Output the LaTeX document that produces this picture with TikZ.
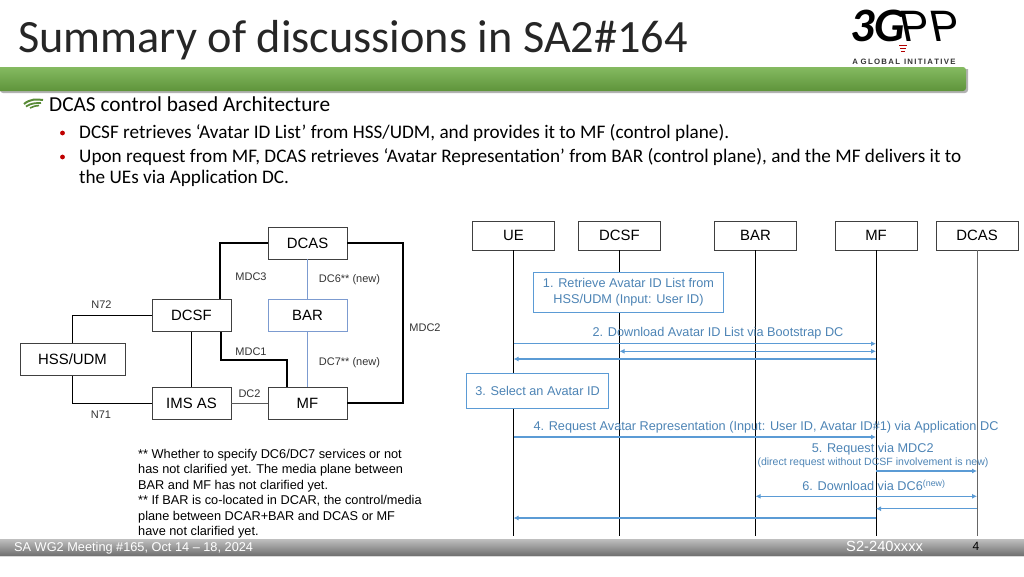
\documentclass[tikz,border=0pt]{standalone}
\usepackage{fontspec}
\setmainfont{Carlito}
\newfontfamily\arialfont{Liberation Sans}
\usetikzlibrary{arrows.meta}
\definecolor{msgblue}{HTML}{5B9BD5}
\definecolor{barblue}{HTML}{7C9BD0}
\definecolor{bargreen}{HTML}{6FAE45}
\begin{document}
\begin{tikzpicture}[x=1pt,y=-1pt,
        main/.style = {draw=black!75, fill=white, line width=0.8pt, minimum width=79pt, minimum height=32pt, inner sep=0pt, font=\arialfont\fontsize{14.9}{14.9}\selectfont},
        head/.style = {main, minimum width=82pt, minimum height=29pt},
        link/.style = {draw=black, line width=0.8pt},
        thick link/.style = {draw=black, line width=2pt},
        blue link/.style = {draw=barblue, line width=0.9pt},
        tag/.style = {inner sep=0pt, font=\arialfont\fontsize{11}{11}\selectfont, text=black!80},
        life/.style = {draw=black, line width=0.8pt},
        msg/.style = {draw=msgblue, line width=1.3pt, -{Latex[length=5pt,width=5pt]}},
        both/.style = {msg, {Latex[length=5pt,width=5pt]}-{Latex[length=5pt,width=5pt]}},
        note/.style = {draw=msgblue, fill=white, line width=0.9pt, inner sep=0pt, align=center, text=msgblue!85!black, font=\arialfont\fontsize{12.7}{16}\selectfont},
        say/.style = {inner sep=0pt, align=center, text=msgblue!85!black, font=\arialfont\fontsize{12.7}{14}\selectfont},
        body/.style = {anchor=west, inner sep=0pt, font=\fontsize{19.2}{19.2}\selectfont},
        foot/.style = {inner sep=0pt, text=white, font=\arialfont\fontsize{12.75}{12.75}\selectfont}]
                \useasboundingbox (0,0) rectangle (1024,576);
                \node[anchor=west, inner sep=0pt, font=\fontsize{46.3}{46.3}\selectfont, text=black!85] (title) at (18,40) {Summary of discussions in SA2\#164};
                \fill[black!30] (0,69) -- (968,69) -- (968,88) [rounded corners=3pt] -- (968,93) -- (0,93) -- cycle;
                \shade[top color=bargreen!85!white, bottom color=bargreen!85!black, rounded corners=3pt] (-5,67) rectangle (966,91);
                \node[inner sep=0pt, font=\bfseries\itshape\fontsize{48}{48}\selectfont] (logo) at (878,26) {3G};
                \node[inner sep=0pt, xslant=-0.2, font=\arialfont\fontsize{44}{44}\selectfont] (pp) [right of = logo, node distance=52pt] {PP};
                \draw[red!70!black, line width=0.8pt] (899,45) -- (907,45);
                \draw[red!70!black, line width=0.8pt] (900,48) -- (906,48);
                \draw[red!70!black, line width=0.8pt] (901,51) -- (905,51);
                \node[inner sep=0pt, font=\arialfont\bfseries\fontsize{7.8}{7.8}\selectfont, text=black!80] (slogan) at (904,62) {A\,\,G\,L\,O\,B\,A\,L\,\,\,I\,N\,I\,T\,I\,A\,T\,I\,V\,E};
                \draw[bargreen!80!black, line width=2pt] (24,104) .. controls (30,99) and (36,99) .. (43,100);
                \draw[bargreen!80!black, line width=1.8pt] (26,106.5) .. controls (31,103) and (36,103) .. (41,103);
                \draw[bargreen!80!black, line width=1.6pt] (30,108) .. controls (33,106) and (36,106) .. (39,105.5);
                \node[body, font=\fontsize{21.3}{21.3}\selectfont] (sub) at (49,104) {DCAS control based Architecture};
                \node[body] (first) at (79,133) {DCSF retrieves ‘Avatar ID List’ from HSS/UDM, and provides it to MF (control plane).};
                \node[body] (second) at (79,157) {Upon request from MF, DCAS retrieves ‘Avatar Representation’ from BAR (control plane), and the MF delivers it to};
                \node[body] (third) at (79,178) {the UEs via Application DC.};
                \fill[red!75!black] (62.5,133) circle (2.4);
                \fill[red!75!black] (62.5,157) circle (2.4);

                \node[main] (dcsf) at (191.5,315.5) {DCSF};
                \node[main, draw=barblue] (bar) [right of = dcsf, node distance=116pt] {BAR};
                \node[main] (dcas) [above of = bar, node distance=72.5pt] {DCAS};
                \node[main] (mf) [below of = bar, node distance=87.5pt] {MF};
                \node[main] (ims) [left of = mf, node distance=116pt] {IMS AS};
                \node[main, minimum width=105pt] (hss) at (72.5,359.5) {HSS/UDM};
                \draw[thick link] (dcas) -| ([xshift=28.5pt]dcsf.north);
                \draw[thick link] (dcas) -- (403,243) |- (mf);
                \draw[thick link] ([xshift=29.5pt]dcsf.south) |- (287,359.5) -- ([xshift=-20.5pt]mf.north);
                \draw[blue link] (dcas) -- (bar);
                \draw[blue link] (bar) -- (mf);
                \draw[link] (dcsf) -- (ims);
                \draw[link, black!65] (ims) -- (mf);
                \draw[link] (hss) |- (dcsf);
                \draw[link] (hss) |- (ims);
                \node[tag] (mdc3) at (251,276.5) {MDC3};
                \node[tag] (dc6) at (349.5,279.5) {DC6** (new)};
                \node[tag] (n72) at (101.5,305) {N72};
                \node[tag] (mdc2) at (425,327.5) {MDC2};
                \node[tag] (mdc1) at (251,352) {MDC1};
                \node[tag] (dc7) at (349.5,363) {DC7** (new)};
                \node[tag] (dc2) at (249.5,394) {DC2};
                \node[tag] (n71) at (101,415) {N71};
                \node[anchor=north west, inner sep=0pt, align=left, font=\arialfont\fontsize{12.75}{15.4}\selectfont] (remark) at (138,449) {** Whether to specify DC6/DC7 services or not\\has not clarified yet. The media plane between\\BAR and MF has not clarified yet.\\** If BAR is co-located in DCAR, the control/media\\plane between DCAR+BAR and DCAS or MF\\have not clarified yet.};

                \node[head] (ue2) at (513.5,235.5) {UE};
                \node[head] (dcsf2) [right of = ue2, node distance=106pt] {DCSF};
                \node[head] (bar2) [right of = dcsf2, node distance=136pt] {BAR};
                \node[head] (mf2) [right of = bar2, node distance=120.5pt] {MF};
                \node[head] (dcas2) [right of = mf2, node distance=101pt] {DCAS};
                \coordinate[below of = ue2, node distance=300pt] (ue end);
                \coordinate[below of = dcsf2, node distance=300pt] (dcsf end);
                \coordinate[below of = bar2, node distance=300pt] (bar end);
                \coordinate[below of = mf2, node distance=300pt] (mf end);
                \coordinate[below of = dcas2, node distance=300pt] (dcas end);
                \draw[life] (ue2) -- (ue end);
                \draw[life] (dcsf2) -- (dcsf end);
                \draw[life] (bar2) -- (bar end);
                \draw[life] (mf2) -- (mf end);
                \draw[life, line width=1pt, black!60] (dcas2) -- (dcas end);
                \node[note, minimum width=190pt, minimum height=40pt] (select list) at (628.5,292) {1. Retrieve Avatar ID List from\\HSS/UDM (Input: User ID)};
                \node[note, minimum width=142pt, minimum height=35pt] (select id) at (537.5,390.5) {3. Select an Avatar ID};
                \node[say] (say2) at (718,333) {2. Download Avatar ID List via Bootstrap DC};
                \node[say] (say4) at (766,427) {4. Request Avatar Representation (Input: User ID, Avatar ID\#1) via Application DC};
                \node[say] (say5) at (872.7,449) {5. Request via MDC2};
                \node[say, font=\arialfont\fontsize{10.55}{10.55}\selectfont] (say5b) at (873,462.5) {(direct request without DCSF involvement is new)};
                \node[say] (say6) at (874,485.5) {6. Download via DC6\textsuperscript{(new)}};
                \draw[msg] (ue2 |- 0,343.7) -- (mf2 |- 0,343.7);
                \draw[both] (dcsf2 |- 0,351.3) -- (mf2 |- 0,351.3);
                \draw[msg] (mf2 |- 0,359) -- (ue2 |- 0,359);
                \draw[msg] (ue2 |- 0,437) -- (mf2 |- 0,437);
                \draw[msg] (mf2 |- 0,471) -- (dcas2 |- 0,471);
                \draw[both] (bar2 |- 0,496.3) -- (dcas2 |- 0,496.3);
                \draw[msg] (dcas2 |- 0,508.7) -- (mf2 |- 0,508.7);
                \draw[msg] (mf2 |- 0,518) -- (ue2 |- 0,518);

                \fill[black!15] (0,541) rectangle (1024,557);
                \shade[top color=black!25, bottom color=black!55] (0,539) rectangle (1024,555);
                \node[foot, anchor=west] (meeting) at (14,548) {SA WG2 Meeting \#165, Oct 14 – 18, 2024};
                \node[foot, anchor=west, font=\arialfont\fontsize{14.7}{14.7}\selectfont] (tdoc) at (846,546) {S2-240xxxx};
                \node[foot, text=black, font=\arialfont\fontsize{12}{12}\selectfont] (page) at (976,546) {4};
            \end{tikzpicture}
\end{document}
